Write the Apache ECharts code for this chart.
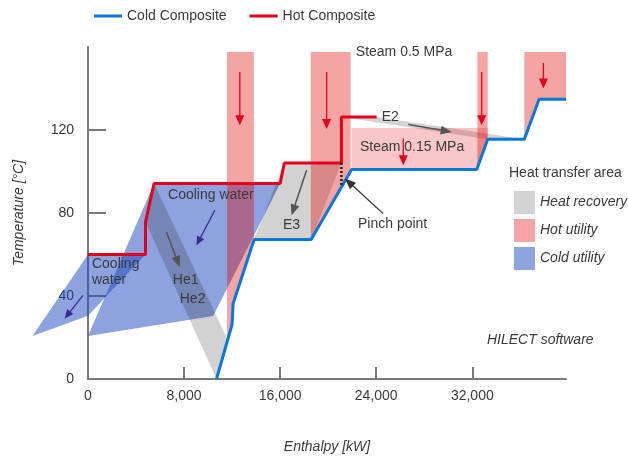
<!DOCTYPE html>
<html>
<head>
<meta charset="utf-8">
<script src="https://cdn.jsdelivr.net/npm/echarts@6/dist/echarts.min.js"></script>
<style>html,body{margin:0;padding:0;background:#fff}#c{width:628px;height:460px}</style>
</head>
<body>
<div id="c"></div>
<script>
// ---- data (enthalpy kW, temperature °C) ----
const xTicks = [0, 8000, 16000, 24000, 32000];
const yTicks = [0, 40, 80, 120];
const coldEnthalpy = [10700, 12000, 12080, 13830, 18580, 21950, 32370, 33280, 36330, 37560, 39800];
const coldTemp     = [0, 26.4, 36.3, 67.2, 67.2, 101, 101, 115.5, 115.5, 134.8, 134.8];
const hotEnthalpy  = [0, 4790, 4790, 5500, 16000, 16350, 21100, 21100, 24030];
const hotTemp      = [60, 60, 75.7, 94.2, 94.2, 104.1, 104.1, 126.3, 126.3];
const heatRecoveryAreas = [
  [[4790, 75.7], [5500, 94.2], [11580, 19.5], [10700, 0]],
  [[13830, 67.2], [16350, 104.1], [21100, 104.1], [18580, 67.2]],
  [[21100, 126.3], [24030, 126.3], [36330, 115.5], [33280, 115.5]]
];
const hotUtilityAreas = [
  [[11580, 157.6], [13810, 157.6], [13810, 66.8], [12080, 36.3], [12000, 26.4], [11580, 17.9]],
  [[18550, 157.6], [21870, 157.6], [21870, 100.2], [18580, 67.2], [18550, 67.2]],
  [[32420, 157.6], [33280, 157.6], [33280, 115.5], [32420, 101.7]],
  [[36330, 157.6], [39800, 157.6], [39800, 134.8], [37560, 134.8], [36330, 115.5]]
];
const steamLowAreas = [
  [[21950, 121], [33280, 121], [33280, 115.5], [32370, 101], [21950, 101]]
];
const coldUtilityAreas = [
  [[-4630, 20.7], [0, 30.5], [1500, 39.8], [4790, 60], [0, 60]],
  [[0, 20.7], [5500, 94.2], [16000, 94.2], [10420, 30.4]]
];
const pinchLine = [[21100, 104.1], [21100, 92.5]];
// arrows: [x1, t1, x2, t2]
const hotArrows  = [[12640, 148, 12640, 122.3], [19870, 148, 19870, 120.5], [32780, 148, 32780, 122.3], [37920, 152.3, 37920, 140], [26250, 115.9, 26250, 103]];
const grayArrows = [[6530, 70.8, 7640, 54], [18200, 100.6, 16950, 78.9], [26670, 122.7, 30280, 119]];
const coldArrows = [[10560, 81.3, 9030, 64.4], [-420, 40.3, -1940, 29.1]];
const pinchArrow = [[24580, 79.7, 21390, 96.6]];
// annotation labels
const labelTexts = ['Steam 0.5 MPa', 'E2', 'Steam 0.15 MPa', 'Cooling water', 'Cooling\nwater', 'He1', 'He2', 'E3', 'Pinch point'];
const labelX     = [22300, 24450, 22640, 10230, 330, 7060, 7640, 16230, 22480];
const labelT     = [157.6, 126.3, 111.8, 88.5, 51.4, 47.6, 38.4, 74, 74.6];
const labelAlign = ['left', 'left', 'left', 'center', 'left', 'left', 'left', 'left', 'left'];

// ---- rendering ----
const FONT = '"Liberation Sans", Arial, sans-serif';
const TXT = '#3a3a3a';
const BLUE = '#0a78d6', RED = '#e2001a';
const FILL_COLD = 'rgba(28,70,190,0.5)';
const FILL_REC = 'rgba(0,0,0,0.175)';
const FILL_HOT = 'rgba(227,0,0,0.355)';
const FILL_STEAM = 'rgba(227,0,0,0.22)';

function polyRender(polys, fill) {
  return function (params, api) {
    const pts = polys[params.dataIndex].map(p => api.coord(p));
    return { type: 'polygon', shape: { points: pts }, style: { fill: fill } };
  };
}
function arrowRender(arrows, color, width, hl, hw) {
  return function (params, api) {
    const a = arrows[params.dataIndex];
    const p1 = api.coord([a[0], a[1]]), p2 = api.coord([a[2], a[3]]);
    const dx = p2[0] - p1[0], dy = p2[1] - p1[1], L = Math.hypot(dx, dy);
    const ux = dx / L, uy = dy / L;
    const bx = p2[0] - ux * hl, by = p2[1] - uy * hl;
    return { type: 'group', children: [
      { type: 'line', shape: { x1: p1[0], y1: p1[1], x2: bx + ux, y2: by + uy }, style: { stroke: color, lineWidth: width } },
      { type: 'polygon', shape: { points: [[p2[0], p2[1]], [bx - uy * hw / 2, by + ux * hw / 2], [bx + uy * hw / 2, by - ux * hw / 2]] }, style: { fill: color } }
    ] };
  };
}
function idx(arr) { return arr.map((_, i) => [i]); }

const chart = echarts.init(document.getElementById('c'), null, { renderer: 'canvas' });
chart.setOption({
  backgroundColor: '#fff',
  animation: false,
  grid: { left: 88, top: 47, right: 62, bottom: 81, outerBoundsMode: 'none' },
  legend: [
    { data: ['Cold Composite', 'Hot Composite'], left: 89, top: 4, icon: 'rect', itemWidth: 28, itemHeight: 3, itemGap: 23,
      textStyle: { fontFamily: FONT, fontSize: 14, color: TXT }, selectedMode: false },
    { data: ['Heat recovery', 'Hot utility', 'Cold utility'], orient: 'vertical', left: 509, top: 186, icon: 'rect',
      itemWidth: 21, itemHeight: 23, itemGap: 5, selectedMode: false,
      textStyle: { fontFamily: FONT, fontSize: 14, fontStyle: 'italic', color: TXT } }
  ],
  graphic: [
    { type: 'text', left: 509, top: 166, style: { text: 'Heat transfer area', fontFamily: FONT, fontSize: 14, fill: TXT } },
    { type: 'text', left: 487, top: 333, style: { text: 'HILECT software', fontFamily: FONT, fontSize: 14, fontStyle: 'italic', fill: TXT } }
  ],
  xAxis: {
    type: 'value', min: 0, max: 39800, interval: 8000,
    name: 'Enthalpy [kW]', nameLocation: 'middle', nameGap: 61,
    nameTextStyle: { fontFamily: FONT, fontSize: 14, fontStyle: 'italic', color: TXT },
    axisLine: { lineStyle: { color: '#7a7a7a', width: 2 } },
    axisTick: { show: true, inside: true, length: 12, customValues: xTicks, lineStyle: { color: '#7a7a7a', width: 2 } },
    axisLabel: { customValues: xTicks, margin: 10, fontFamily: FONT, fontSize: 14, color: TXT,
      formatter: v => Number(v).toLocaleString('en-US') },
    splitLine: { show: false }
  },
  yAxis: {
    type: 'value', min: 0, max: 160, interval: 40,
    name: 'Temperature [°C]', nameLocation: 'middle', nameGap: 62,
    nameTextStyle: { fontFamily: FONT, fontSize: 14, fontStyle: 'italic', color: TXT },
    axisLine: { show: true, lineStyle: { color: '#7a7a7a', width: 2 } },
    axisTick: { show: true, inside: true, length: 18, customValues: yTicks, lineStyle: { color: '#7a7a7a', width: 2 } },
    axisLabel: { customValues: yTicks, margin: 14, fontFamily: FONT, fontSize: 14, color: TXT },
    splitLine: { show: false }
  },
  series: [
    { name: 'Cold utility', type: 'custom', clip: false, z: 2, itemStyle: { color: '#8da5dc' },
      data: idx(coldUtilityAreas), renderItem: polyRender(coldUtilityAreas, FILL_COLD) },
    { name: 'Heat recovery', type: 'custom', clip: false, z: 3, itemStyle: { color: '#d3d3d3' },
      data: idx(heatRecoveryAreas), renderItem: polyRender(heatRecoveryAreas, FILL_REC) },
    { name: 'Hot utility', type: 'custom', clip: false, z: 4, itemStyle: { color: '#f5a5a5' },
      data: idx(hotUtilityAreas), renderItem: polyRender(hotUtilityAreas, FILL_HOT) },
    { name: 'Steam 0.15', type: 'custom', clip: false, z: 4,
      data: idx(steamLowAreas), renderItem: polyRender(steamLowAreas, FILL_STEAM) },
    { name: 'Cold Composite', type: 'line', z: 10, showSymbol: false, color: BLUE,
      lineStyle: { color: BLUE, width: 3 }, data: coldEnthalpy.map((x, i) => [x, coldTemp[i]]) },
    { name: 'Hot Composite', type: 'line', z: 10, showSymbol: false, color: RED,
      lineStyle: { color: RED, width: 3 }, data: hotEnthalpy.map((x, i) => [x, hotTemp[i]]) },
    { name: 'pinch', type: 'line', z: 11, showSymbol: false,
      lineStyle: { color: '#222', width: 2.5, type: [2, 2] }, data: pinchLine },
    { name: 'hotArrows', type: 'custom', clip: false, z: 12, data: idx(hotArrows), renderItem: arrowRender(hotArrows, RED, 1.3, 10, 9) },
    { name: 'grayArrows', type: 'custom', clip: false, z: 12, data: idx(grayArrows), renderItem: arrowRender(grayArrows, '#555', 1.5, 11, 9) },
    { name: 'coldArrows', type: 'custom', clip: false, z: 12, data: idx(coldArrows), renderItem: arrowRender(coldArrows, '#3b2a8f', 1.3, 9, 8) },
    { name: 'pinchArrow', type: 'custom', clip: false, z: 12, data: idx(pinchArrow), renderItem: arrowRender(pinchArrow, '#333', 1.3, 11, 9) },
    { name: 'labels', type: 'custom', clip: false, z: 13, data: idx(labelTexts),
      renderItem: function (params, api) {
        const i = params.dataIndex;
        const p = api.coord([labelX[i], labelT[i]]);
        return { type: 'text', x: p[0], y: p[1],
          style: { text: labelTexts[i], fontFamily: FONT, fontSize: 14, fill: TXT, lineHeight: 16,
            align: labelAlign[i], verticalAlign: 'middle' } };
      } }
  ]
});
</script>
</body>
</html>
